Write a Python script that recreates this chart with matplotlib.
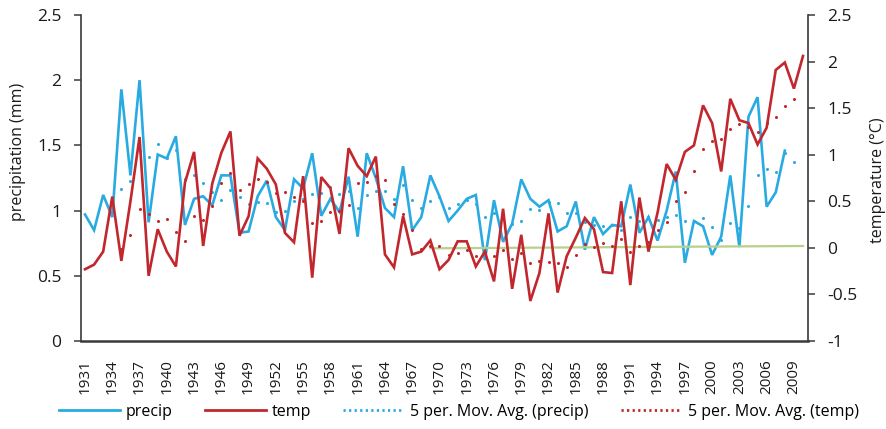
import numpy as np
import pandas as pd
import matplotlib
matplotlib.use("Agg")
import matplotlib.pyplot as plt
from matplotlib.lines import Line2D

plt.rcParams['font.family'] = ['Open Sans', 'DejaVu Sans']

years = list(range(1931, 2011))

precip = [0.97, 0.85, 1.12, 0.95, 1.93, 1.27, 2.00, 0.91, 1.43, 1.40,
          1.57, 0.89, 1.09, 1.11, 1.04, 1.27, 1.27, 0.83, 0.84, 1.11,
          1.23, 0.95, 0.85, 1.24, 1.17, 1.44, 0.96, 1.09, 0.99, 1.26,
          0.80, 1.44, 1.25, 1.02, 0.95, 1.34, 0.85, 0.95, 1.27, 1.11,
          0.92, 1.00, 1.09, 1.12, 0.62, 1.08, 0.76, 0.90, 1.24, 1.09,
          1.03, 1.08, 0.84, 0.88, 1.07, 0.70, 0.95, 0.82, 0.89, 0.88,
          1.20, 0.83, 0.95, 0.77, 1.00, 1.30, 0.60, 0.92, 0.88, 0.66,
          0.80, 1.27, 0.72, 1.72, 1.87, 1.03, 1.14, 1.46, np.nan, np.nan]

temp = [-0.23, -0.18, -0.04, 0.55, -0.14, 0.50, 1.19, -0.30, 0.20, -0.04,
        -0.20, 0.70, 1.03, 0.02, 0.69, 1.02, 1.25, 0.13, 0.34, 0.96,
        0.85, 0.68, 0.16, 0.06, 0.77, -0.32, 0.76, 0.64, 0.15, 1.07,
        0.88, 0.77, 0.98, -0.07, -0.21, 0.34, -0.07, -0.04, 0.08, -0.23,
        -0.13, 0.07, 0.07, -0.20, -0.04, -0.36, 0.42, -0.44, 0.14, -0.57,
        -0.27, 0.37, -0.48, -0.09, 0.11, 0.32, 0.20, -0.26, -0.27, 0.50,
        -0.40, 0.54, -0.04, 0.38, 0.90, 0.73, 1.03, 1.10, 1.53, 1.34,
        0.82, 1.60, 1.37, 1.34, 1.11, 1.29, 1.91, 1.99, 1.71, 2.06]

baseline_years = [1969, 2010]
baseline_temp = [-0.005, 0.02]

tick_years = list(range(1931, 2010, 3))
precip_ticks = [0, 0.5, 1, 1.5, 2, 2.5]
temp_ticks = [-1, -0.5, 0, 0.5, 1, 1.5, 2, 2.5]

BLUE = '#29abe2'
RED = '#c1272d'
GREEN = '#b7d08c'
AXC = '#3a3a3a'


def moving_avg(vals, n=5):
    s = pd.Series(vals, dtype=float)
    m = s.rolling(n, min_periods=n - 1).mean()
    m.iloc[:n - 1] = np.nan
    return m.values


precip_ma = moving_avg(precip)
temp_ma = moving_avg(temp)

fig = plt.figure(figsize=(8.86, 4.29), dpi=100)
ax = fig.add_axes([81 / 886, 1 - 341 / 429, (808 - 81) / 886, (341 - 15) / 429])
ax2 = ax.twinx()

ax.plot(years, precip, color=BLUE, lw=1.9, solid_joinstyle='miter', zorder=3)
ax.plot(years[:-1], precip_ma[:-1], linestyle='none', marker='o', ms=2.2,
        mec='none', mfc=BLUE, zorder=2)

ax2.plot(baseline_years, baseline_temp, color=GREEN, lw=1.6, zorder=1)
ax2.plot(years[:-1], temp_ma[:-1], linestyle='none', marker='o', ms=2.2,
         mec='none', mfc=RED, zorder=2)
ax2.plot(years, temp, color=RED, lw=1.9, solid_joinstyle='miter', zorder=3)

ax.set_xlim(1930.56, 2010.55)
ax.set_ylim(0, 2.5)
ax2.set_ylim(-1, 2.5)
ax.set_yticks(precip_ticks)
ax.set_yticklabels([f'{v:g}' for v in precip_ticks])
ax2.set_yticks(temp_ticks)
ax2.set_yticklabels([f'{v:g}' for v in temp_ticks])
ax.set_xticks(tick_years)
ax.set_xticklabels([str(y) for y in tick_years], rotation=90)

ax.tick_params(axis='x', length=0, pad=13, labelsize=11, colors='#1a1a1a')
ax.tick_params(axis='y', direction='out', length=5, width=1.1, color=AXC,
               pad=9, labelsize=12.5, labelcolor='#1a1a1a')
ax2.tick_params(axis='y', direction='out', length=5, width=1.1, color=AXC,
                pad=9, labelsize=12.5, labelcolor='#1a1a1a')

for a in (ax, ax2):
    a.spines['top'].set_visible(False)
ax.spines['right'].set_visible(False)
ax2.spines['left'].set_visible(False)
ax2.spines['bottom'].set_visible(False)
ax.spines['left'].set_color(AXC)
ax.spines['left'].set_linewidth(1.2)
ax.spines['bottom'].set_color(AXC)
ax.spines['bottom'].set_linewidth(1.8)
ax2.spines['right'].set_color(AXC)
ax2.spines['right'].set_linewidth(1.2)

fig.text(18 / 886, 1 - 152 / 429, 'precipitation (mm)', rotation=90,
         ha='center', va='center', fontsize=11.5, color='#1a1a1a')
fig.text(878 / 886, 1 - 180 / 429, 'temperature (°C)', rotation=90,
         ha='center', va='center', fontsize=11.5, color='#1a1a1a')

handles = [
    Line2D([], [], color=BLUE, lw=2),
    Line2D([], [], color=RED, lw=2),
    Line2D([], [], color=BLUE, lw=2, linestyle=(0, (0.8, 1.2))),
    Line2D([], [], color=RED, lw=2, linestyle=(0, (0.8, 1.2))),
]
labels = ['precip', 'temp', '5 per. Mov. Avg. (precip)', '5 per. Mov. Avg. (temp)']
fig.legend(handles, labels, loc='center', bbox_to_anchor=(459 / 886, 1 - 412 / 429),
           ncol=4, frameon=False, fontsize=11.5, handlelength=3.8,
           handletextpad=0.4, columnspacing=2.0)

fig.savefig('out.png', dpi=100)
